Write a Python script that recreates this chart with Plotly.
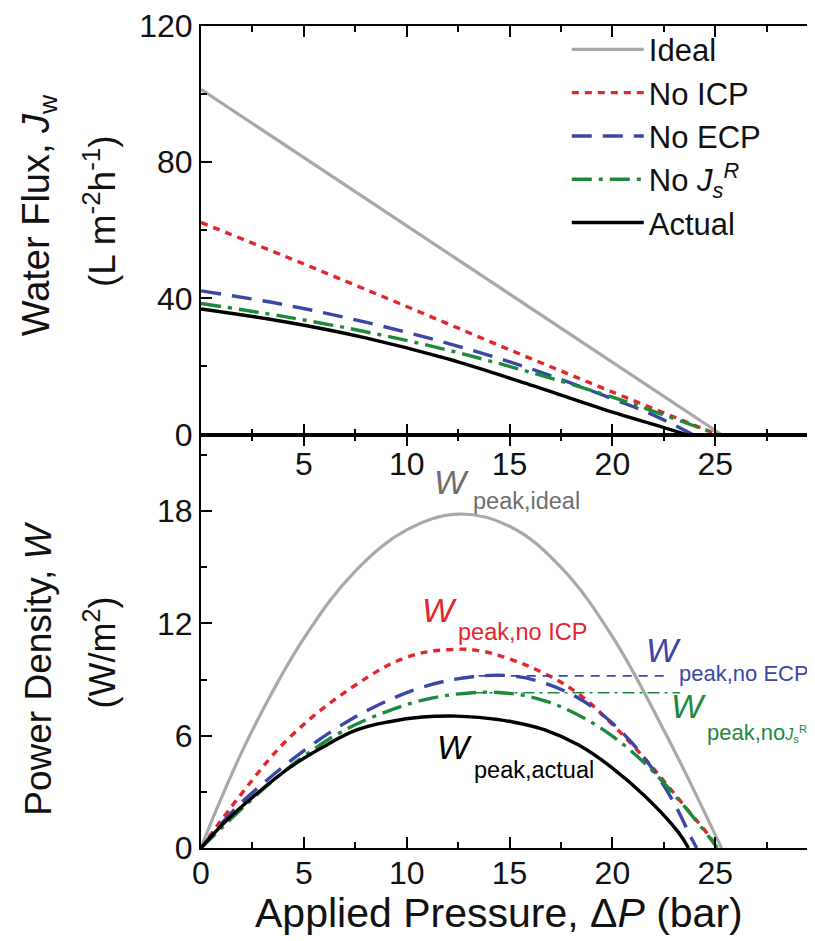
import plotly.graph_objects as go

# ---------------- data ----------------
# Top panel: water flux Jw (L m-2 h-1) vs applied pressure (bar)
p_ideal = [0, 12.5, 25.3]
jw_ideal = [101.4, 51.3, 0]

p_noicp = [0, 5, 10, 15, 20, 25.1]
jw_noicp = [62.3, 50.1, 37.6, 24.9, 12.5, 0]

p_noecp = [0, 4, 8, 12, 16, 20, 22, 23.9]
jw_noecp = [42.2, 38.2, 33.0, 26.8, 19.4, 10.5, 5.7, 0]

p_nojs = [0, 4, 8, 12, 16, 20, 22, 24, 25.1]
jw_nojs = [38.5, 34.7, 30.2, 24.8, 18.3, 11.0, 6.8, 2.5, 0]

p_actual = [0, 4, 8, 12, 16, 20, 22, 23.6]
jw_actual = [36.9, 33.2, 28.4, 22.2, 14.6, 6.6, 3.0, 0]

# Bottom panel: power density W (W/m2) vs applied pressure (bar)
wp_ideal = [0, 1, 2.5, 5, 7.5, 10, 12.5, 15, 17.5, 20, 22.5, 24, 25.3]
w_ideal = [0, 2.7, 6.3, 11.2, 14.8, 17.0, 17.85, 17.2, 15.0, 11.3, 6.3, 3.0, 0]

wp_noicp = [0, 1.9, 4.3, 7.5, 10, 12, 13.5, 15, 16.75, 18.4, 20, 21.6, 23.2, 24.8, 25.1]
w_noicp = [0, 2.8, 5.9, 8.7, 10.2, 10.6, 10.55, 10.1, 9.3, 8.2, 6.6, 4.75, 2.65, 0.5, 0]

wp_noecp = [0, 1.57, 3.5, 5.12, 6.73, 8.35, 10.77, 13.2, 15.1, 16.75, 18.36, 19.65, 20.8, 21.9, 22.9, 23.9, 24.1]
w_noecp = [0, 2.0, 3.9, 5.3, 6.5, 7.5, 8.6, 9.15, 9.2, 8.8, 8.0, 7.0, 5.8, 4.3, 2.6, 0.4, 0]

wp_nojs = [0, 1.89, 3.5, 5.12, 6.73, 8.35, 10.77, 13.2, 15.1, 16.75, 18.36, 19.97, 21.6, 23.2, 24.8, 25.1]
w_nojs = [0, 2.0, 3.6, 5.0, 6.15, 7.0, 7.9, 8.3, 8.25, 7.85, 7.1, 6.0, 4.5, 2.6, 0.45, 0]

wp_actual = [0, 1.08, 2.7, 4.31, 5.93, 7.54, 9.16, 10.77, 12.4, 13.5, 15.1, 16.75, 18.36, 19.97, 21.6, 23.2, 23.7]
w_actual = [0, 1.3, 2.9, 4.3, 5.4, 6.3, 6.75, 7.0, 7.05, 6.98, 6.75, 6.3, 5.5, 4.3, 2.75, 0.85, 0]

# Peak guide lines
guide_noecp_p = [13.5, 22.6]
guide_noecp_w = [9.2, 9.2]
guide_nojs_p = [13.2, 23.3]
guide_nojs_w = [8.3, 8.3]

series_names = ["Ideal", "No ICP", "No ECP", "No <i>J<sub>s</sub><sup>R</sup></i>", "Actual"]
x_ticks_top = [5, 10, 15, 20, 25]
x_ticks_bottom = [0, 5, 10, 15, 20, 25]
y_ticks_top = [0, 40, 80, 120]
y_ticks_bottom = [0, 6, 12, 18]

# ---------------- styles ----------------
C_IDEAL = "#a8a8a8"
C_RED = "#e3262b"
C_BLUE = "#3b47a6"
C_GREEN = "#1d8a3b"
C_BLACK = "#000000"
FONT = "Arial, Liberation Sans, sans-serif"

styles = [
    dict(color=C_IDEAL, width=3.2, dash="solid"),
    dict(color=C_RED, width=3.4, dash="7px,6px"),
    dict(color=C_BLUE, width=3.4, dash="20px,11px"),
    dict(color=C_GREEN, width=3.4, dash="20px,7px,4px,7px"),
    dict(color=C_BLACK, width=3.4, dash="solid"),
]

fig = go.Figure()

top = [(p_ideal, jw_ideal), (p_noicp, jw_noicp), (p_noecp, jw_noecp),
       (p_nojs, jw_nojs), (p_actual, jw_actual)]
bot = [(wp_ideal, w_ideal), (wp_noicp, w_noicp), (wp_noecp, w_noecp),
       (wp_nojs, w_nojs), (wp_actual, w_actual)]

for name, (px, py), st in zip(series_names, top, styles):
    fig.add_trace(go.Scatter(x=px, y=py, mode="lines", name=name,
                             line=dict(**st, shape="spline", smoothing=1.0),
                             xaxis="x", yaxis="y", showlegend=True))
for name, (px, py), st in zip(series_names, bot, styles):
    fig.add_trace(go.Scatter(x=px, y=py, mode="lines", name=name,
                             line=dict(**st, shape="spline", smoothing=1.1),
                             xaxis="x2", yaxis="y2", showlegend=False))

fig.add_trace(go.Scatter(x=guide_noecp_p, y=guide_noecp_w, mode="lines", showlegend=False,
                         line=dict(color=C_BLUE, width=1.6, dash="9px,7px"), xaxis="x2", yaxis="y2"))
fig.add_trace(go.Scatter(x=guide_nojs_p, y=guide_nojs_w, mode="lines", showlegend=False,
                         line=dict(color=C_GREEN, width=1.6, dash="12px,5px,3px,5px"), xaxis="x2", yaxis="y2"))

# page offset of the plot div is ~8 px; plot area on page: x 201..823, y 25..848
XR = [0, 30.14]
axis_common = dict(showline=True, linecolor="black", linewidth=2, ticks="inside", ticklen=11,
                   tickwidth=2, tickcolor="black", showgrid=False, zeroline=False, mirror="ticks",
                   ticklabeloverflow="allow",
                   tickfont=dict(family=FONT, size=32, color="#111"))
minor_x = dict(dtick=2.5, ticks="inside", ticklen=6, tickwidth=2, tickcolor="black", showgrid=False)

fig.update_layout(
    width=815, height=933,
    margin=dict(l=193, r=0, t=17, b=93),
    paper_bgcolor="white", plot_bgcolor="white",
    font=dict(family=FONT, color="black"),
    xaxis=dict(domain=[0, 1], anchor="y", range=XR, tickmode="array", tickvals=x_ticks_top,
               minor=minor_x, **axis_common),
    yaxis=dict(domain=[0.503, 1], anchor="x", range=[0, 120], tickmode="array", tickvals=y_ticks_top,
               minor=dict(dtick=20, ticks="inside", ticklen=6, tickwidth=2, tickcolor="black"),
               **axis_common),
    xaxis2=dict(domain=[0, 1], anchor="y2", range=XR, tickmode="array", tickvals=x_ticks_bottom,
                minor=minor_x, ticklabelstandoff=-4, **axis_common),
    yaxis2=dict(domain=[0, 0.503], anchor="x2", range=[0, 22.1], tickmode="array", tickvals=y_ticks_bottom,
                minor=dict(dtick=3, ticks="inside", ticklen=6, tickwidth=2, tickcolor="black"),
                **axis_common),
    legend=dict(x=0.590, y=1.004, xanchor="left", yanchor="top", bgcolor="rgba(0,0,0,0)",
                font=dict(family=FONT, size=31, color="#111"), itemwidth=72, tracegroupgap=0),
    showlegend=True,
)


def paper_x(px):
    return (px - 201) / 622.0


def paper_y(py):
    return 1 - (py - 25) / 823.0


ytitles = [
    ("Water Flux, <i>J</i><sub>w</sub>", 38, 215, 38),
    ("(L m<sup>-2</sup>h<sup>-1</sup>)", 100, 210, 37),
    ("Power Density, <i>W</i>", 38, 669, 37),
    ("(W/m<sup>2</sup>)", 100, 652, 36),
]
for txt, px, py, fs in ytitles:
    fig.add_annotation(text=txt, xref="paper", yref="paper", x=paper_x(px), y=paper_y(py),
                       textangle=-90, showarrow=False, xanchor="center", yanchor="middle",
                       font=dict(family=FONT, size=fs, color="#111"))

fig.add_annotation(text="Applied Pressure, Δ<i>P</i> (bar)", xref="paper", yref="paper",
                   x=paper_x(500), y=paper_y(913), showarrow=False, xanchor="center", yanchor="middle",
                   font=dict(family=FONT, size=41, color="#111"))

# Peak labels in the bottom panel
peak_labels = [
    ("peak,ideal", "#6e6e6e", (452, 482), (472, 501), 23.5),
    ("peak,no ICP", C_RED, (440, 610), (457, 632), 23.5),
    ("peak,no ECP", C_BLUE, (665, 650), (679, 673), 22),
    ("peak,no<span style='font-size:16px'><i>J</i><sub>s</sub><sup>R</sup></span>", C_GREEN, (690, 706), (707, 732), 22),
    ("peak,actual", "#000000", (455, 747), (473, 770), 23.5),
]
for sub, col, (wx, wy), (sx, sy), fs in peak_labels:
    fig.add_annotation(text="<i>W</i>", xref="x2", yref="y2", x=(wx - 201) / 20.64, y=(848 - wy) / 18.73,
                       showarrow=False, xanchor="center", yanchor="middle",
                       font=dict(family=FONT, size=34, color=col))
    fig.add_annotation(text=sub, xref="x2", yref="y2", x=(sx - 201) / 20.64, y=(848 - sy) / 18.73,
                       showarrow=False, xanchor="left", yanchor="middle",
                       font=dict(family=FONT, size=fs, color=col))

fig.write_html("out.html")
